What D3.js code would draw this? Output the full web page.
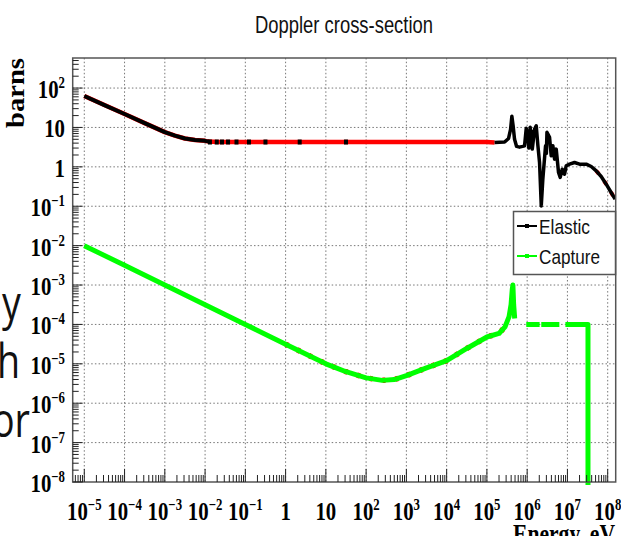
<!DOCTYPE html>
<html><head><meta charset="utf-8">
<script src="https://cdn.jsdelivr.net/npm/d3@7"></script>
<style>html,body{margin:0;padding:0;background:#fff;overflow:hidden}</style>
</head><body><svg id="chart" width="621" height="536"></svg>
<script>
// ---- data -------------------------------------------------------------
// elastic cross-section (energy in eV, sigma in barns)
const elasticE = [1e-5, 3.16e-5, 1e-4, 3.16e-4, 1e-3, 1.78e-3, 3.16e-3, 5.62e-3, 1e-2, 1.26e-2,
  2e-2, 1, 1e3, 1e5, 1.55e5, 2.75e5, 3.45e5, 3.87e5, 4.17e5, 4.47e5, 4.86e5, 5.46e5, 6.47e5, 7.69e5,
  8.61e5, 9.48e5, 1.04e6, 1.10e6, 1.19e6, 1.25e6, 1.29e6, 1.34e6, 1.53e6, 1.68e6, 1.85e6, 2.03e6, 2.24e6, 2.45e6, 2.86e6,
  3.0e6, 3.1e6, 3.27e6, 3.60e6, 3.96e6, 4.35e6, 4.79e6, 5.27e6, 6.01e6, 6.62e6, 7.43e6, 8.47e6, 9.33e6, 1.13e7,
  1.50e7, 2.0e7, 2.93e7, 3.90e7, 5.19e7, 6.90e7, 9.18e7, 1.22e8, 1.53e8];
const elasticXS = [63, 37, 21.9, 12.9, 7.6, 6.2, 5.25, 4.8, 4.57, 4.37,
  4.27, 4.27, 4.27, 4.27, 4.17, 4.27, 5.25, 8.9, 19.3, 11.2, 5.0, 3.3, 3.16, 3.3,
  3.42, 9.5, 6.15, 3.0, 10.1, 4.5, 8.0, 2.82, 9.1, 11.0, 3.42, 1.29, 0.102, 0.49, 3.42,
  2.2, 7.5, 6.8, 5.6, 1.9, 3.42, 1.57, 2.82, 0.72, 0.54, 0.87, 0.65, 1.06, 1.17,
  1.29, 1.17, 1.17, 1.02, 0.79, 0.57, 0.363, 0.223, 0.151];
// sparse elastic points on the flat part of the curve
const elasticMarkE = [1.32e-2, 1.95e-2, 2.63e-2, 3.72e-2, 6.03e-2, 0.123, 0.316, 2.24, 31.6];
const elasticMarkXS = [4.27, 4.27, 4.27, 4.27, 4.27, 4.27, 4.27, 4.27, 4.27];

// capture cross-section (null = break in the curve)
const captureE = [1e-5, 1e-4, 1e-3, 1e-2, 1e-1, 1, 10, 31.6, 100, 251, 500, 1000, 3162, 1e4, 3.16e4,
  1e5, 2e5, 2.82e5, 3.55e5, 3.98e5, 4.27e5, 4.42e5, 4.62e5, 4.9e5, 6e5,
  9.5e5, 2.04e6, 2.1e6, 2.24e6, 6.3e6, 7e6, 8.9e6, 3.24e7, 3.24e7];
const captureXS = [1.0e-2, 3.16e-3, 1.0e-3, 3.16e-4, 1.0e-4, 3.16e-5, 1.0e-5, 6.3e-6, 4.4e-6, 3.8e-6, 3.98e-6, 5.0e-6, 7.9e-6, 1.2e-5, 2.45e-5,
  4.8e-5, 5.9e-5, 8.7e-5, 1.58e-4, 3.16e-4, 7.9e-4, 1.0e-3, 3.16e-4, 1.41e-4, null,
  1e-4, 1e-4, null, 1e-4, 1e-4, null, 1e-4, 1e-4, 1e-10];

const xTickLabels = ["10^-5","10^-4","10^-3","10^-2","10^-1","1","10","10^2","10^3","10^4","10^5","10^6","10^7","10^8"];
const yTickLabels = ["10^-8","10^-7","10^-6","10^-5","10^-4","10^-3","10^-2","10^-1","1","10","10^2"];
const seriesNames = ["Elastic", "Capture"];

// ---- layout -----------------------------------------------------------
const frame = {left: 72.7, right: 615.7, top: 58, bottom: 482};
const svg = d3.select("#chart");
const x = d3.scaleLog().domain([Math.pow(10, -5.288), Math.pow(10, 8.199)]).range([frame.left, frame.right]);
const y = d3.scaleLog().domain([1e-8, Math.pow(10, 2.763)]).range([frame.bottom, frame.top]);

const labelValue = s => s.startsWith("10^") ? Math.pow(10, +s.slice(3)) : +s;
const serif = "'Liberation Serif','Times New Roman',serif";
const sans = "'Liberation Sans',Arial,sans-serif";

// background slide text partly hidden behind the plot
const slide = svg.append("g").attr("font-family", "'Open Sans',sans-serif").attr("font-size", 47).attr("fill", "#111");
[["y", 2, 320], ["h", -3, 378], ["or", -8, 437]].forEach(([t, a, b]) => slide.append("text")
  .attr("transform", `translate(${a},${b}) scale(0.8,1)`).text(t));

// ---- grid -------------------------------------------------------------
const grid = svg.append("g").attr("stroke", "#777").attr("stroke-width", 1).attr("stroke-dasharray", "1.5,2.2");
xTickLabels.map(labelValue).forEach(v => grid.append("line")
  .attr("x1", x(v)).attr("x2", x(v)).attr("y1", frame.top).attr("y2", frame.bottom));
yTickLabels.map(labelValue).filter(v => v > 1.5e-8).forEach(v => grid.append("line")
  .attr("y1", y(v)).attr("y2", y(v)).attr("x1", frame.left).attr("x2", frame.right));

// ---- series -----------------------------------------------------------
svg.append("clipPath").attr("id", "plotClip").append("rect")
  .attr("x", frame.left).attr("y", frame.top).attr("width", frame.right - frame.left).attr("height", frame.bottom - frame.top + 3);
const plot = svg.append("g").attr("clip-path", "url(#plotClip)");

const line = d3.line().defined(d => d[1] != null).x(d => x(d[0])).y(d => y(d[1]));
const elastic = elasticE.map((e, i) => [e, elasticXS[i]]);
const capture = captureE.map((e, i) => [e, captureXS[i]]);

// red underlay curves
plot.append("path").attr("d", line(elastic.filter(d => d[0] <= 1.6e5))).attr("fill", "none")
  .attr("stroke", "#ff0000").attr("stroke-width", 4.5).attr("stroke-linejoin", "round");
plot.append("path").attr("d", line(elastic.filter(d => d[0] >= 4e7))).attr("fill", "none")
  .attr("stroke", "#ff0000").attr("stroke-width", 4).attr("stroke-dasharray", "4,9");
plot.append("path").attr("d", line(capture.filter(d => d[0] >= 1 && d[0] <= 3e5)))
  .attr("fill", "none").attr("stroke", "#ff0000").attr("stroke-width", 5.5).attr("stroke-dasharray", "3,10");

// elastic: dense black at low and high energy, markers on the plateau
plot.append("path").attr("d", line(elastic.filter(d => d[0] <= 1.3e-2)))
  .attr("fill", "none").attr("stroke", "#000").attr("stroke-width", 4).attr("stroke-linejoin", "round");
plot.append("path").attr("d", line(elastic.filter(d => d[0] >= 1.5e5)))
  .attr("fill", "none").attr("stroke", "#000").attr("stroke-width", 3.5).attr("stroke-linejoin", "round");
plot.selectAll("rect.mk").data(elasticMarkE.map((e, i) => [e, elasticMarkXS[i]])).enter().append("rect")
  .attr("class", "mk").attr("x", d => x(d[0]) - 2).attr("y", d => y(d[1]) - 2.5).attr("width", 4).attr("height", 5).attr("fill", "#000");

// capture
plot.append("path").attr("d", line(capture)).attr("fill", "none").attr("stroke", "#00ff00").attr("stroke-width", 5).attr("stroke-linejoin", "round");

// ---- frame and ticks ----------------------------------------------------
svg.append("rect").attr("x", frame.left).attr("y", frame.top).attr("width", frame.right - frame.left)
  .attr("height", frame.bottom - frame.top).attr("fill", "none").attr("stroke", "#555").attr("stroke-width", 1.5);

const ticks = svg.append("g").attr("stroke", "#222").attr("stroke-width", 1);
const [xd0, xd1] = x.domain(), [yd0, yd1] = y.domain();
for (let p = -6; p <= 8; p++) for (let k = 1; k <= 9; k++) {
  const v = k * Math.pow(10, p);
  if (v >= xd0 && v <= xd1) ticks.append("line").attr("x1", x(v)).attr("x2", x(v))
    .attr("y1", frame.bottom).attr("y2", frame.bottom - (k === 1 ? 13 : 7));
}
for (let p = -8; p <= 2; p++) for (let k = 1; k <= 9; k++) {
  const v = k * Math.pow(10, p);
  if (v >= yd0 * 0.999 && v <= yd1) ticks.append("line").attr("y1", y(v)).attr("y2", y(v))
    .attr("x1", frame.left).attr("x2", frame.left + (k === 1 ? 10 : 6));
}

// ---- tick labels --------------------------------------------------------
function powerLabel(g, s, anchor) {
  const t = g.append("text").attr("text-anchor", anchor).attr("font-family", serif)
    .attr("font-weight", "bold").attr("font-size", 26).attr("fill", "#000");
  if (s.startsWith("10^")) {
    t.append("tspan").text("10");
    t.append("tspan").attr("dy", -10).attr("font-size", 16).text(s.slice(3).replace("-", "\u2212"));
  } else t.text(s);
}
xTickLabels.forEach(s => powerLabel(svg.append("g")
  .attr("transform", `translate(${x(labelValue(s))},520) scale(0.8,1)`), s, "middle"));
yTickLabels.forEach(s => powerLabel(svg.append("g")
  .attr("transform", `translate(65,${y(labelValue(s)) + 10}) scale(0.8,1)`), s, "end"));

// axis titles
svg.append("text").attr("transform", "translate(24,128) rotate(-90)").attr("font-family", serif)
  .attr("font-weight", "bold").attr("font-size", 26).attr("textLength", 70).attr("lengthAdjust", "spacingAndGlyphs").text("barns");
svg.append("text").attr("x", 615).attr("y", 543).attr("text-anchor", "end").attr("font-family", serif)
  .attr("font-weight", "bold").attr("font-size", 27).attr("textLength", 102).attr("lengthAdjust", "spacingAndGlyphs").text("Energy, eV");

// title
svg.append("text").attr("x", 255).attr("y", 32.5).attr("font-family", sans).attr("font-size", 24)
  .attr("textLength", 178).attr("lengthAdjust", "spacingAndGlyphs").attr("fill", "#111").text("Doppler cross-section");

// ---- legend ---------------------------------------------------------------
const legend = svg.append("g");
legend.append("rect").attr("x", 513.5).attr("y", 211.5).attr("width", 102).attr("height", 63)
  .attr("fill", "#fff").attr("stroke", "#555").attr("stroke-width", 1.5);
const legendColors = ["#000", "#00ff00"];
seriesNames.forEach((name, i) => {
  const cy = 226 + i * 30;
  legend.append("line").attr("x1", 517).attr("x2", 537).attr("y1", cy).attr("y2", cy)
    .attr("stroke", legendColors[i]).attr("stroke-width", 2);
  legend.append("rect").attr("x", 525).attr("y", cy - 2).attr("width", 4).attr("height", 4).attr("fill", legendColors[i]);
  legend.append("text").attr("x", 539).attr("y", cy + 7.5).attr("font-family", sans).attr("font-size", 21)
    .attr("textLength", i === 0 ? 51 : 61).attr("lengthAdjust", "spacingAndGlyphs").attr("fill", "#111").text(name);
});
</script></body></html>
